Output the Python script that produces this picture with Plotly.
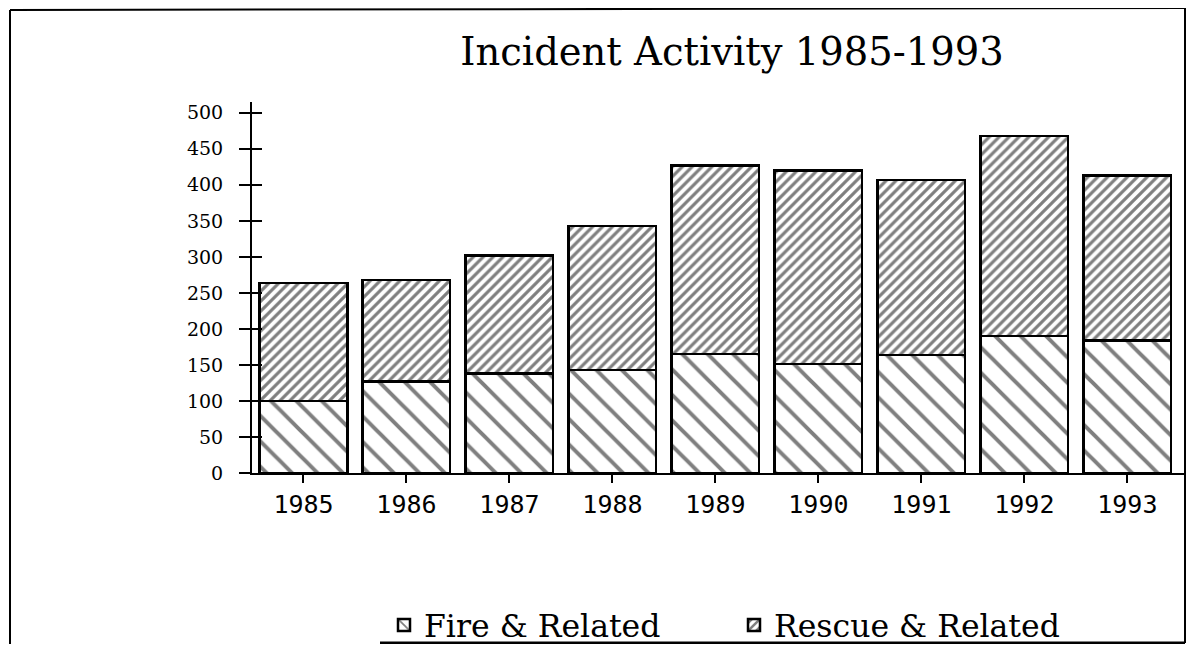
import plotly.graph_objects as go

years = ["1985", "1986", "1987", "1988", "1989", "1990", "1991", "1992", "1993"]
fire = [100, 127, 138, 143, 165, 151, 164, 190, 184]
rescue = [164, 141, 164, 200, 262, 269, 243, 278, 229]
y_ticks = [0, 50, 100, 150, 200, 250, 300, 350, 400, 450, 500]

# page body has an 8px margin all round; fit the figure inside the window
OFF = 8
W, H = 1194 - 2 * OFF, 652 - 2 * OFF
ML, MT = 252 - OFF, 102 - OFF
MR = 2
MB = H - (473 - OFF)
pw = W - ML - MR
ph = H - MT - MB

def px_x(px):
    return (px - OFF - ML) / pw

def px_y(py):
    return (H - MB - (py - OFF)) / ph

fig = go.Figure()
fig.add_trace(go.Bar(
    x=years, y=fire, name="Fire & Related",
    marker=dict(color="white", line=dict(color="black", width=2.5),
                pattern=dict(shape="\\", size=18, solidity=0.22,
                             fgcolor="black", bgcolor="white")),
))
fig.add_trace(go.Bar(
    x=years, y=rescue, name="Rescue & Related",
    marker=dict(color="white", line=dict(color="black", width=2.5),
                pattern=dict(shape="/", size=7, solidity=0.45,
                             fgcolor="black", bgcolor="white")),
))
# invisible helper so the overlaid tick axis (inside ticks) is rendered
fig.add_trace(go.Scatter(x=years[:1], y=[None], yaxis="y2", mode="markers",
                         showlegend=False, hoverinfo="skip"))

line = dict(color="black", width=2)
shapes = [
    dict(type="line", xref="paper", yref="paper", x0=px_x(10), x1=px_x(10), y0=px_y(10), y1=px_y(652), line=line),
    dict(type="line", xref="paper", yref="paper", x0=px_x(10), x1=px_x(1185), y0=px_y(10), y1=px_y(8), line=line),
    dict(type="line", xref="paper", yref="paper", x0=px_x(1185), x1=px_x(1185), y0=px_y(8), y1=px_y(643), line=line),
    dict(type="line", xref="paper", yref="paper", x0=px_x(380), x1=px_x(1185), y0=px_y(643), y1=px_y(643), line=dict(color="black", width=3)),
]

fig.update_layout(
    width=W, height=H,
    margin=dict(l=ML, r=MR, t=MT, b=MB, autoexpand=False),
    paper_bgcolor="white", plot_bgcolor="white",
    barmode="stack", bargap=0.15,
    title=dict(text="Incident Activity 1985-1993", x=(732 - OFF) / W, xanchor="center",
               y=1 - (52 - OFF) / H, yanchor="middle",
               font=dict(family="DejaVu Serif", size=38.5, color="black")),
    xaxis=dict(type="category", range=[-0.5, 8.55], showline=True, linecolor="black",
               linewidth=2, ticks="outside", ticklen=8, tickwidth=1.5, tickcolor="black",
               showgrid=False, zeroline=False, automargin=False,
               tickfont=dict(family="DejaVu Sans Mono", size=25, color="black")),
    yaxis=dict(range=[0, 515], tickvals=y_ticks, showline=True, linecolor="black",
               linewidth=2, ticks="outside", ticklen=11, tickwidth=2, tickcolor="black",
               showgrid=False, zeroline=False, ticklabelstandoff=12, automargin=False,
               tickfont=dict(family="DejaVu Serif", size=19, color="black")),
    yaxis2=dict(range=[0, 515], tickvals=y_ticks, overlaying="y", side="left",
                anchor="x", showline=False, ticks="inside", ticklen=10, tickwidth=2,
                tickcolor="black", showticklabels=False, showgrid=False, zeroline=False,
                automargin=False),
    showlegend=True,
    legend=dict(orientation="h", x=px_x(384), xanchor="left", y=px_y(625), yanchor="middle",
                entrywidth=305, traceorder="normal",
                font=dict(family="DejaVu Serif", size=31.5, color="black"),
                bgcolor="rgba(0,0,0,0)"),
    shapes=shapes,
)

fig.write_html("out.html")
